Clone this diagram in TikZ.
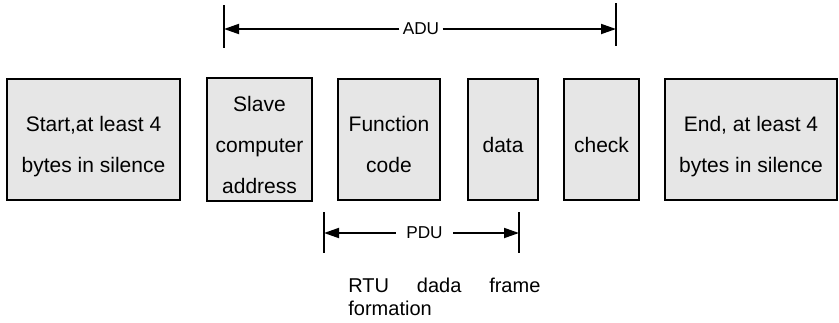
\documentclass[tikz,border=0pt]{standalone}
\usepackage{fontspec}
\setmainfont{Liberation Sans}
\usetikzlibrary{arrows.meta}
\definecolor{fieldgray}{RGB}{230,230,230}
\newcommand\fieldtext[1]{\raisebox{-2.25pt}[\height][\depth]{\begin{tabular}{@{}c@{}}#1\end{tabular}}}
\tikzset{
  field/.style={draw, line width=1pt, fill=fieldgray, inner sep=0pt,
    minimum height=60.5pt, font=\fontsize{10.5}{20.5}\selectfont},
  span/.style={line width=0.9pt, -{Triangle[length=7.5pt,width=5pt]}},
  tick/.style={line width=0.7pt},
  spanlabel/.style={inner sep=1.5pt, font=\fontsize{8.6}{10}\selectfont},
}
\begin{document}
\begin{tikzpicture}[x=0.5pt, y=-0.5pt]
  \useasboundingbox (0,0) rectangle (839,322);

  % Frame fields
  \node[field, minimum width=86.5pt] (start) at (93.5,139.5) {\fieldtext{Start,at least 4\\bytes in silence}};
  \node[field, minimum width=52.5pt] (slave) at (259.5,139.5) {\fieldtext{Slave\\computer\\address}};
  \node[field, minimum width=51pt] (func) at (389,139.5) {\fieldtext{Function\\code}};
  \node[field, minimum width=35pt] (data) at (503,139.5) {\fieldtext{data}};
  \node[field, minimum width=37.5pt] (check) at (601.5,139.5) {\fieldtext{check}};
  \node[field, minimum width=86pt] (end) at (751,139.5) {\fieldtext{End, at least 4\\bytes in silence}};

  % ADU span
  \coordinate (aduL) at (224,29);
  \coordinate (aduR) at (616,29);
  \node[spanlabel] (adu) at (421,29) {ADU};
  \draw[tick] (aduL) ++(0,-24) -- ++(0,43);
  \draw[tick] (aduR) ++(0,-26) -- ++(0,43);
  \draw[span] (adu.west) -- (aduL);
  \draw[span] (adu.east) -- (aduR);

  % PDU span
  \coordinate (pduL) at (324,233);
  \coordinate (pduR) at (519,233);
  \node[spanlabel, inner xsep=5pt] (pdu) at (424.5,233) {PDU};
  \draw[tick] (pduL) ++(0,-21) -- ++(0,41);
  \draw[tick] (pduR) ++(0,-21) -- ++(0,41);
  \draw[span] (pdu.west) -- (pduL);
  \draw[span] (pdu.east) -- (pduR);

  % Caption
  \node[anchor=north west, inner sep=0pt, align=left,
    font=\fontsize{10}{11.5}\selectfont] (caption) at (348,277.5)
    {\makebox[96pt][s]{RTU dada frame}\\formation};
\end{tikzpicture}
\end{document}
